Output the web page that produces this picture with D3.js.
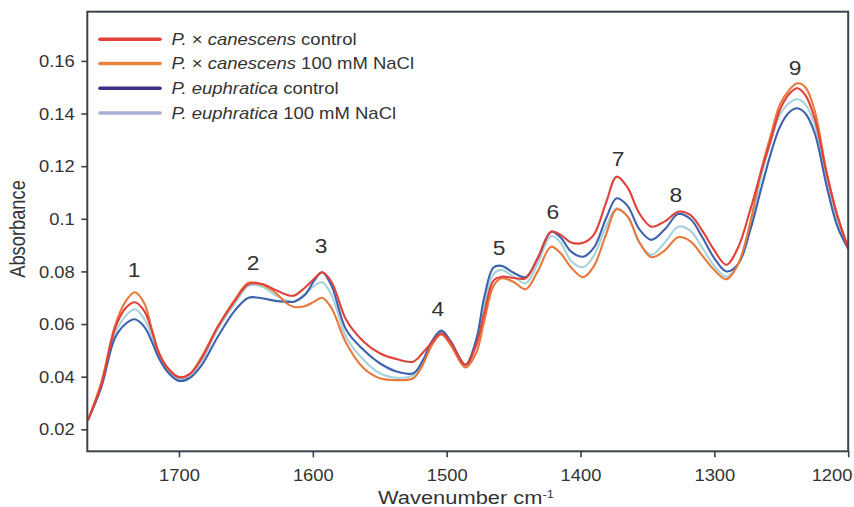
<!DOCTYPE html>
<html>
<head>
<meta charset="utf-8">
<script src="https://cdn.jsdelivr.net/npm/d3@7/dist/d3.min.js"></script>
<style>
  html, body { margin: 0; padding: 0; background: #fff; }
  svg { display: block; }
  text { font-family: "Liberation Sans", Arial, Helvetica, sans-serif; fill: #333; }
</style>
</head>
<body>
<svg id="chart" width="854" height="507"></svg>
<script>
// ---------------- data ----------------
const wavenumbers = [1768, 1758, 1748, 1740, 1733, 1726, 1720, 1715, 1708, 1700, 1692, 1683, 1671, 1658, 1648, 1638, 1628, 1620, 1614, 1606, 1599, 1593, 1586, 1575, 1562, 1550, 1537, 1525, 1518, 1511, 1504, 1497, 1486, 1478, 1472, 1465, 1459, 1450, 1441, 1432, 1422, 1415, 1407, 1398, 1390, 1381, 1373, 1365, 1356, 1347, 1337, 1327, 1318, 1309, 1300, 1291, 1282, 1273, 1265, 1258, 1251, 1244, 1238, 1232, 1225, 1216, 1208, 1200];

const canescensControl = [0.0235, 0.037, 0.058, 0.066, 0.0683, 0.065, 0.057, 0.049, 0.043, 0.0398, 0.041, 0.047, 0.059, 0.069, 0.0752, 0.0752, 0.073, 0.0712, 0.0708, 0.0738, 0.0772, 0.0797, 0.0760, 0.0615, 0.0533, 0.0489, 0.0466, 0.0457, 0.049, 0.053, 0.0565, 0.053, 0.0445, 0.052, 0.064, 0.0765, 0.078, 0.0775, 0.0774, 0.085, 0.0951, 0.094, 0.091, 0.0909, 0.094, 0.106, 0.116, 0.112, 0.102, 0.097, 0.099, 0.1027, 0.1015, 0.0955, 0.088, 0.0825, 0.0894, 0.1037, 0.118, 0.1296, 0.1414, 0.1475, 0.1496, 0.147, 0.138, 0.117, 0.101, 0.089];

const canescensNaCl = [0.0235, 0.038, 0.059, 0.0685, 0.0721, 0.068, 0.0575, 0.049, 0.043, 0.0398, 0.041, 0.0476, 0.059, 0.0695, 0.0757, 0.075, 0.072, 0.068, 0.0665, 0.0668, 0.0685, 0.070, 0.066, 0.0527, 0.0432, 0.0394, 0.0387, 0.0394, 0.0444, 0.052, 0.056, 0.052, 0.0435, 0.049, 0.061, 0.0745, 0.0774, 0.076, 0.0732, 0.080, 0.0894, 0.087, 0.0815, 0.0778, 0.082, 0.094, 0.1036, 0.101, 0.091, 0.0854, 0.088, 0.093, 0.0915, 0.086, 0.0805, 0.077, 0.0830, 0.0990, 0.1185, 0.1315, 0.1435, 0.149, 0.1515, 0.150, 0.141, 0.1173, 0.101, 0.089];

const euphraticaControl = [0.0235, 0.036, 0.0545, 0.060, 0.0618, 0.059, 0.053, 0.047, 0.0415, 0.0384, 0.0395, 0.0444, 0.0552, 0.0653, 0.070, 0.0698, 0.0688, 0.0685, 0.0685, 0.071, 0.0765, 0.0797, 0.0745, 0.0577, 0.0501, 0.0451, 0.0419, 0.0413, 0.046, 0.0535, 0.0575, 0.0535, 0.0446, 0.054, 0.070, 0.0815, 0.0821, 0.0795, 0.0778, 0.085, 0.0951, 0.093, 0.0875, 0.0856, 0.089, 0.100, 0.1078, 0.105, 0.096, 0.092, 0.096, 0.1018, 0.100, 0.093, 0.085, 0.080, 0.0830, 0.0960, 0.1115, 0.1245, 0.135, 0.1405, 0.142, 0.140, 0.1325, 0.1122, 0.097, 0.0885];

const euphraticaNaCl = [0.0235, 0.037, 0.056, 0.063, 0.0656, 0.062, 0.055, 0.048, 0.042, 0.039, 0.0405, 0.046, 0.058, 0.068, 0.0745, 0.0742, 0.071, 0.069, 0.0685, 0.0715, 0.0745, 0.0759, 0.071, 0.055, 0.0463, 0.0413, 0.0396, 0.0406, 0.0455, 0.053, 0.057, 0.053, 0.044, 0.052, 0.067, 0.079, 0.0806, 0.078, 0.0755, 0.083, 0.0935, 0.091, 0.084, 0.0816, 0.086, 0.097, 0.104, 0.101, 0.091, 0.0863, 0.091, 0.097, 0.0955, 0.089, 0.082, 0.078, 0.0830, 0.0970, 0.1160, 0.1290, 0.1395, 0.144, 0.1454, 0.1435, 0.1355, 0.115, 0.099, 0.089];

const seriesNames = ["canescensControl", "canescensNaCl", "euphraticaControl", "euphraticaNaCl"];
const lineColors = ["#e0413b", "#e8773b", "#3d62ae", "#a6d2db"];
const legendColors = ["#e2403a", "#e9823f", "#3b3286", "#a9aed3"];
const legendLabels = [
  [["P.", true], [" × ", false], ["canescens", true], [" control", false]],
  [["P.", true], [" × ", false], ["canescens", true], [" 100 mM NaCl", false]],
  [["P. euphratica", true], [" control", false]],
  [["P. euphratica", true], [" 100 mM NaCl", false]]
];

const xTickValues = [1700, 1600, 1500, 1400, 1300, 1200];
const xTickLabels = ["1700", "1600", "1500", "1400", "1300", "1200"];
const yTickValues = [0.02, 0.04, 0.06, 0.08, 0.10, 0.12, 0.14, 0.16];
const yTickLabels = ["0.02", "0.04", "0.06", "0.08", "0.1", "0.12", "0.14", "0.16"];

const peakLabels = ["1", "2", "3", "4", "5", "6", "7", "8", "9"];
const peakWavenumbers = [1733.6, 1644.7, 1593.9, 1506.5, 1460.9, 1420.6, 1372.0, 1328.7, 1239.6];
const peakAbsorbance = [0.0806, 0.0832, 0.0898, 0.0657, 0.0890, 0.1025, 0.1228, 0.1092, 0.1574];

const xTitle = "Wavenumber cm";
const xTitleSup = "-1";
const yTitle = "Absorbance";

// ---------------- drawing ----------------
const SX = 1.17; // horizontal text stretch seen in the reference
const ink = "#3b4348";
const svg = d3.select("#chart");

const x = d3.scaleLinear().domain([1768.5, 1200]).range([87.3, 848.2]);
const y = d3.scaleLinear().domain([0.01164, 0.1787]).range([451.3, 11.7]);

const seriesData = {
  canescensControl, canescensNaCl, euphraticaControl, euphraticaNaCl
};
const drawOrder = [3, 2, 1, 0];
const line = d3.line()
  .x((d, i) => x(wavenumbers[i]))
  .y(d => y(d))
  .curve(d3.curveCatmullRom.alpha(0.5));

const plot = svg.append("g");
plot.append("clipPath").attr("id", "clip").append("rect")
  .attr("x", x.range()[0]).attr("y", y.range()[1])
  .attr("width", x.range()[1] - x.range()[0]).attr("height", y.range()[0] - y.range()[1]);

drawOrder.forEach(k => {
  plot.append("path")
    .datum(seriesData[seriesNames[k]])
    .attr("clip-path", "url(#clip)")
    .attr("fill", "none")
    .attr("stroke", lineColors[k])
    .attr("stroke-width", 2.1)
    .attr("stroke-linejoin", "round")
    .attr("d", line);
});

// frame
svg.append("rect")
  .attr("x", x.range()[0]).attr("y", y.range()[1])
  .attr("width", x.range()[1] - x.range()[0]).attr("height", y.range()[0] - y.range()[1])
  .attr("fill", "none").attr("stroke", ink).attr("stroke-width", 2);

// y axis
const yAxis = svg.append("g")
  .attr("transform", `translate(${x.range()[0]},0)`)
  .call(d3.axisLeft(y).tickValues(yTickValues).tickSize(6)
    .tickFormat((d, i) => yTickLabels[i]));
yAxis.select(".domain").remove();
yAxis.selectAll(".tick line").attr("stroke", ink).attr("stroke-width", 1.6);
yAxis.selectAll(".tick text")
  .attr("x", -12.5 / SX).attr("dy", "0.36em")
  .attr("transform", `scale(${SX},1)`)
  .style("font-size", "15.7px").style("fill", "#333");

// x axis
const xAxis = svg.append("g")
  .attr("transform", `translate(0,${y.range()[0]})`)
  .call(d3.axisBottom(x).tickValues(xTickValues).tickSize(6)
    .tickFormat((d, i) => xTickLabels[i]));
xAxis.select(".domain").remove();
xAxis.selectAll(".tick line").attr("stroke", ink).attr("stroke-width", 1.6);
xAxis.selectAll(".tick text")
  .attr("y", 30).attr("dy", 0)
  .attr("transform", `scale(${SX},1)`)
  .style("font-size", "15.7px").style("fill", "#333")
  .each(function(d) {
    const px = x(d);
    const half = this.getComputedTextLength() * SX / 2;
    if (px + half > 852) {
      d3.select(this).attr("text-anchor", "end").attr("x", (852 - px) / SX);
    }
  });

// axis titles
const xt = svg.append("text")
  .attr("transform", `translate(466,504) scale(${SX},1)`)
  .attr("text-anchor", "middle")
  .style("font-size", "18.7px");
xt.append("tspan").text(xTitle);
xt.append("tspan").attr("dy", "-0.55em").style("font-size", "11px").text(xTitleSup);

svg.append("text")
  .attr("transform", `translate(25,229) scale(${SX},1) rotate(-90)`)
  .attr("text-anchor", "middle")
  .style("font-size", "18.3px")
  .text(yTitle);

// peak numbers
peakLabels.forEach((lab, i) => {
  svg.append("text")
    .attr("transform", `translate(${x(peakWavenumbers[i])},${y(peakAbsorbance[i])}) scale(${SX},1)`)
    .attr("text-anchor", "middle")
    .attr("dy", "0.36em")
    .style("font-size", "19.5px")
    .text(lab);
});

// legend
const legend = svg.append("g");
const rowY = [39.3, 63.5, 88.2, 113];
legendLabels.forEach((parts, i) => {
  legend.append("line")
    .attr("x1", 100).attr("x2", 160)
    .attr("y1", rowY[i]).attr("y2", rowY[i])
    .attr("stroke", legendColors[i]).attr("stroke-width", 3.6)
    .attr("stroke-linecap", "round");
  const t = legend.append("text")
    .attr("transform", `translate(171.5,${rowY[i]}) scale(${SX},1)`)
    .attr("dy", "0.36em")
    .style("font-size", "15.8px");
  parts.forEach(([s, it]) => {
    t.append("tspan").style("font-style", it ? "italic" : "normal").text(s);
  });
});
</script>
</body>
</html>
